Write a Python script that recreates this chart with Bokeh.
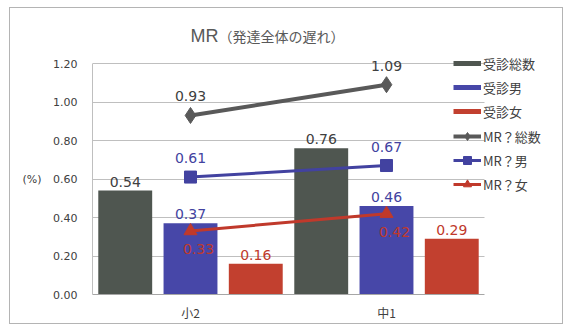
from bokeh.plotting import figure
from bokeh.models import (Range1d, Legend, LegendItem, Label, FixedTicker,
                          LinearAxis, ColumnDataSource)
from bokeh.core.properties import value
from bokeh.embed import file_html
from bokeh.resources import INLINE

# Data
grades = ["小2", "中1"]
visit_total = [0.54, 0.76]
visit_male = [0.37, 0.46]
visit_female = [0.16, 0.29]
mr_total = [0.93, 1.09]
mr_male = [0.61, 0.67]
mr_female = [0.33, 0.42]
y_ticks = [0.0, 0.2, 0.4, 0.6, 0.8, 1.0, 1.2]
unit_tick = 0.6

bar_labels = ["受診総数", "受診男", "受診女"]
line_labels = ["MR？総数", "MR？男", "MR？女"]

GRAY_BAR = "#4f5650"
BLUE_BAR = "#4747a8"
RED_BAR = "#c2402f"
GRAY_LINE = "#595959"
BLUE_LINE = "#4242a0"
RED_LINE = "#c0392b"
TXT = "#404040"
GRID = "#bfbfbf"
NUM_FONT = value("DejaVu Sans")
JP_FONT = "Noto Sans CJK JP"

# Category slots: each grade occupies one unit on the x axis
n_cat = len(grades)
centers = [i + 0.5 for i in range(n_cat)]
OFF = 0.333
W = 0.275

def fmt(vals):
    return [f"{v:.2f}" for v in vals]

src = ColumnDataSource(dict(
    x=centers,
    x_l=[c - OFF for c in centers],
    x_r=[c + OFF for c in centers],
    vt=visit_total, vm=visit_male, vf=visit_female,
    mt=mr_total, mm=mr_male, mf=mr_female,
    vt_s=fmt(visit_total), vm_s=fmt(visit_male), vf_s=fmt(visit_female),
    mt_s=fmt(mr_total), mm_s=fmt(mr_male), mf_s=fmt(mr_female),
))

# The plotting frame runs to the top and right edges so that the title and
# legend can sit inside it; the value axis tops out at 1.20.
p = figure(width=565, height=327,
           x_range=Range1d(0, 2.4133), y_range=Range1d(0, 1.5273),
           output_backend="svg", toolbar_location=None,
           min_border_left=92, min_border_right=0,
           min_border_top=0, min_border_bottom=33)
p.outline_line_color = None
p.background_fill_alpha = 0
p.border_fill_alpha = 0

# Light chart border drawn behind the transparent canvas
line = "linear-gradient(#b4b4b4,#b4b4b4)"
p.styles = {
    "background": (f"{line} 9px 7px/554px 1px no-repeat, "
                   f"{line} 9px 323px/554px 1px no-repeat, "
                   f"{line} 9px 7px/1px 317px no-repeat, "
                   f"{line} 562px 7px/1px 317px no-repeat, white"),
}

# Axes and grid
p.xgrid.grid_line_color = None
grid = p.ygrid[0]
grid.ticker = FixedTicker(ticks=y_ticks)
grid.grid_line_color = GRID
grid.grid_line_width = 1
if "cross_bounds" in grid.properties():
    grid.cross_bounds = (0, n_cat)
else:
    grid.grid_line_color = None
    p.segment(x0=[0] * len(y_ticks), x1=[n_cat] * len(y_ticks),
              y0=y_ticks, y1=y_ticks, line_color=GRID, line_width=1)

yax = p.yaxis[0]
yax.ticker = FixedTicker(ticks=y_ticks)
yax.bounds = (0, 1.2)
yax.major_label_overrides = {t: f"{t:.2f}" for t in y_ticks}
yax.major_tick_line_color = None
yax.minor_tick_line_color = None
yax.major_tick_out = 0
yax.major_tick_in = 0
yax.axis_line_color = GRID
yax.major_label_standoff = 15
yax.major_label_text_font = "DejaVu Sans"
yax.major_label_text_font_size = "11px"
yax.major_label_text_color = TXT

# Unit marker "(%)" beside the 0.60 tick
unit_axis = LinearAxis(ticker=FixedTicker(ticks=[unit_tick]),
                       major_label_overrides={unit_tick: "(%)"},
                       axis_line_color=None, major_tick_line_color=None,
                       minor_tick_line_color=None, major_tick_out=0,
                       major_tick_in=0, major_label_standoff=9,
                       major_label_text_font="DejaVu Sans",
                       major_label_text_font_size="11px",
                       major_label_text_color=TXT)
p.add_layout(unit_axis, "left")

xax = p.xaxis[0]
xax.ticker = FixedTicker(ticks=centers)
xax.major_label_overrides = {c: g for c, g in zip(centers, grades)}
xax.bounds = (0, n_cat)
xax.major_tick_line_color = None
xax.minor_tick_line_color = None
xax.major_tick_out = 0
xax.major_tick_in = 0
xax.axis_line_color = "#a6a6a6"
xax.major_label_standoff = 9
xax.major_label_text_font = JP_FONT
xax.major_label_text_font_size = "12px"
xax.major_label_text_color = TXT

# Bars
p.vbar(x="x_l", top="vt", width=W, source=src,
       fill_color=GRAY_BAR, line_color=None)
p.vbar(x="x", top="vm", width=W, source=src,
       fill_color=BLUE_BAR, line_color=None)
p.vbar(x="x_r", top="vf", width=W, source=src,
       fill_color=RED_BAR, line_color=None)

for xcol, ycol, txt, color in [("x_l", "vt", "vt_s", TXT),
                               ("x", "vm", "vm_s", BLUE_LINE),
                               ("x_r", "vf", "vf_s", RED_LINE)]:
    p.text(x=xcol, y=ycol, text=txt, source=src,
           text_align="center", text_baseline="bottom", y_offset=-4,
           text_font=NUM_FONT, text_font_size="14px", text_color=color)

# Thin swatches used as legend keys for the bar series (a single NaN point,
# so nothing is drawn in the plot area)
nan = float("nan")
k1 = p.line(x=[nan], y=[nan], line_color=GRAY_BAR, line_width=5, line_cap="butt")
k2 = p.line(x=[nan], y=[nan], line_color=BLUE_BAR, line_width=5, line_cap="butt")
k3 = p.line(x=[nan], y=[nan], line_color=RED_BAR, line_width=5, line_cap="butt")

# Lines with markers
l1 = p.line("x", "mt", source=src, line_color=GRAY_LINE, line_width=4)
s1 = p.scatter("x", "mt", source=src, marker="diamond", size=16,
               fill_color=GRAY_LINE, line_color=GRAY_LINE)
l2 = p.line("x", "mm", source=src, line_color=BLUE_LINE, line_width=3)
s2 = p.scatter("x", "mm", source=src, marker="square", size=12,
               fill_color=BLUE_LINE, line_color=BLUE_LINE)
l3 = p.line("x", "mf", source=src, line_color=RED_LINE, line_width=3)
s3 = p.scatter("x", "mf", source=src, marker="triangle", size=13,
               fill_color=RED_LINE, line_color=RED_LINE)

p.text(x="x", y="mt", text="mt_s", source=src, text_align="center",
       text_baseline="bottom", y_offset=-14, text_font=NUM_FONT,
       text_font_size="14px", text_color=TXT)
p.text(x="x", y="mm", text="mm_s", source=src, text_align="center",
       text_baseline="bottom", y_offset=-14, text_font=NUM_FONT,
       text_font_size="14px", text_color=BLUE_LINE)
p.text(x="x", y="mf", text="mf_s", source=src, text_align="center",
       text_baseline="top", y_offset=13, x_offset=8, text_font=NUM_FONT,
       text_font_size="14px", text_color=RED_LINE)

# Legends: one for the bars, one for the lines
def make_legend(items, bottom_px):
    return Legend(items=items, location=(361, 294 - bottom_px),
                  orientation="vertical",
                  glyph_width=28, glyph_height=20, label_height=20,
                  spacing=4, padding=0, margin=0, label_standoff=2,
                  border_line_color=None, background_fill_alpha=0,
                  label_text_font=JP_FONT, label_text_font_size="13px",
                  label_text_color=TXT)

bar_legend = make_legend([LegendItem(label=bar_labels[0], renderers=[k1]),
                          LegendItem(label=bar_labels[1], renderers=[k2]),
                          LegendItem(label=bar_labels[2], renderers=[k3])],
                         121)
line_legend = make_legend([LegendItem(label=line_labels[0], renderers=[l1, s1]),
                           LegendItem(label=line_labels[1], renderers=[l2, s2]),
                           LegendItem(label=line_labels[2], renderers=[l3, s3])],
                          194)
p.add_layout(bar_legend)
p.add_layout(line_legend)

# Title
p.add_layout(Label(x=98, y=259, x_units="screen", y_units="screen", text="MR",
                   text_font="Liberation Sans", text_font_size="18px",
                   text_color="#595959", text_baseline="middle", text_align="left"))
p.add_layout(Label(x=126, y=259, x_units="screen", y_units="screen",
                   text="（発達全体の遅れ）", text_font=JP_FONT,
                   text_font_size="14px", text_color="#595959",
                   text_baseline="middle", text_align="left"))

open("out.html", "w").write(file_html(p, INLINE))
